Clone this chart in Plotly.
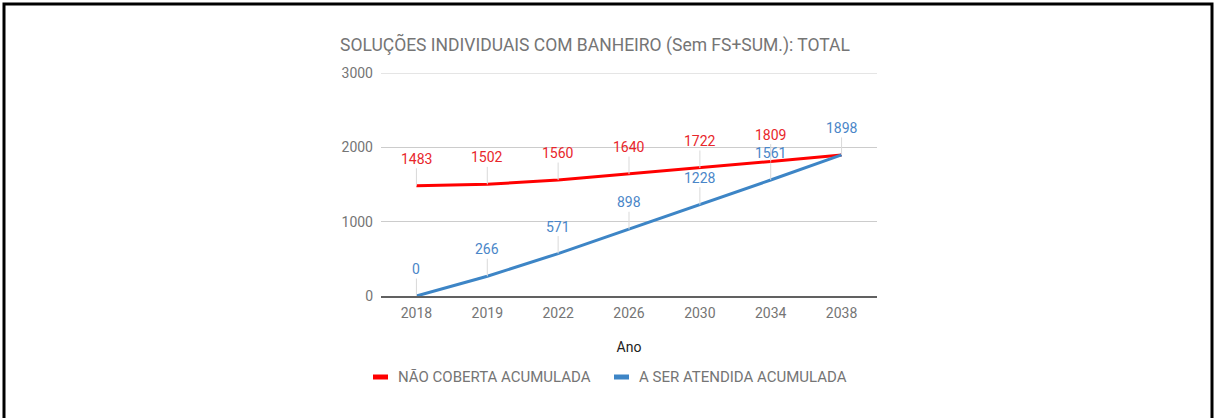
import plotly.graph_objects as go

# Data
anos = ["2018", "2019", "2022", "2026", "2030", "2034", "2038"]
nao_coberta = [1483, 1502, 1560, 1640, 1722, 1809, 1898]
a_ser_atendida = [0, 266, 571, 898, 1228, 1561, 1898]
series_names = ["NÃO COBERTA ACUMULADA", "A SER ATENDIDA ACUMULADA"]
y_ticks = [0, 1000, 2000, 3000]
titulo = "SOLUÇÕES INDIVIDUAIS COM BANHEIRO (Sem FS+SUM.): TOTAL"
eixo_x = "Ano"

# Styling
W, H = 1214, 418
ML, MR, MT, MB = 381, 337, 73, 122
PW, PH = W - ML - MR, H - MT - MB
RED_LINE, BLUE_LINE = "#ff0000", "#3d85c6"
RED_TXT, BLUE_TXT = "#e8262b", "#4a86c8"
GRAY = "#757575"
GRID = "#cccccc"
FONT = "Roboto"


def px_x(px):
    return (px - ML) / PW


def px_y(py):
    return (H - MB - py) / PH


fig = go.Figure()
fig.add_trace(go.Scatter(x=anos, y=nao_coberta, mode="lines", name=series_names[0],
                         line=dict(color=RED_LINE, width=3), showlegend=False))
fig.add_trace(go.Scatter(x=anos, y=a_ser_atendida, mode="lines", name=series_names[1],
                         line=dict(color=BLUE_LINE, width=3), showlegend=False))

annotations = []
# value labels with thin stems above each point (category index on the x axis)
for vals, other, color in [(nao_coberta, a_ser_atendida, RED_TXT),
                           (a_ser_atendida, None, BLUE_TXT)]:
    for i, v in enumerate(vals):
        if other is not None and other[i] == v:
            continue  # coincident point: only one label is shown
        annotations.append(dict(
            x=i, y=v, xref="x", yref="y", text=str(v),
            showarrow=True, arrowhead=0, arrowwidth=1, arrowcolor="#d9d9d9",
            ax=0, ay=-27, font=dict(family=FONT, size=14, color=color),
        ))

shapes = []
# top gridline sits on the range edge, draw it explicitly
shapes.append(dict(type="line", xref="paper", yref="y", x0=0, x1=1,
                   y0=y_ticks[-1], y1=y_ticks[-1], line=dict(color=GRID, width=1),
                   layer="below"))

# custom legend with short thick swatches
legend_items = [(series_names[0], RED_LINE, 373), (series_names[1], BLUE_LINE, 614)]
ly = 377
for name, color, x0 in legend_items:
    shapes.append(dict(type="rect", xref="paper", yref="paper",
                       x0=px_x(x0), x1=px_x(x0 + 15), y0=px_y(ly + 2.5), y1=px_y(ly - 2.5),
                       fillcolor=color, line=dict(width=0)))
    annotations.append(dict(x=px_x(x0 + 23), y=px_y(ly), xref="paper", yref="paper",
                            xanchor="left", yanchor="middle", showarrow=False, text=name,
                            font=dict(family=FONT, size=15, color=GRAY)))

# outer frame
shapes.append(dict(type="rect", xref="paper", yref="paper",
                   x0=px_x(4), x1=px_x(1212), y0=px_y(440), y1=px_y(4),
                   line=dict(color="black", width=3), fillcolor="rgba(0,0,0,0)"))

fig.update_layout(
    width=W, height=H,
    margin=dict(l=ML, r=MR, t=MT, b=MB),
    paper_bgcolor="white", plot_bgcolor="white",
    font=dict(family=FONT, size=14, color=GRAY),
    title=dict(text=titulo, x=340 / W, xref="container", xanchor="left",
               y=1 - 45 / H, yref="container", yanchor="middle",
               font=dict(family=FONT, size=17.5, color=GRAY)),
    xaxis=dict(type="category", range=[-0.5, len(anos) - 0.5], showgrid=False,
               showline=True, linecolor="#616161", linewidth=2, ticks="",
               ticklabelstandoff=3, tickfont=dict(size=14, color=GRAY),
               title=dict(text=eixo_x, standoff=22, font=dict(size=14, color="#222222"))),
    yaxis=dict(range=[0, 3000], tickvals=y_ticks, showgrid=True, gridcolor=GRID,
               gridwidth=1, zeroline=False, ticks="", ticklabelstandoff=7,
               tickfont=dict(size=14, color=GRAY)),
    annotations=annotations,
    shapes=shapes,
    showlegend=False,
)

fig.write_html("out.html")
